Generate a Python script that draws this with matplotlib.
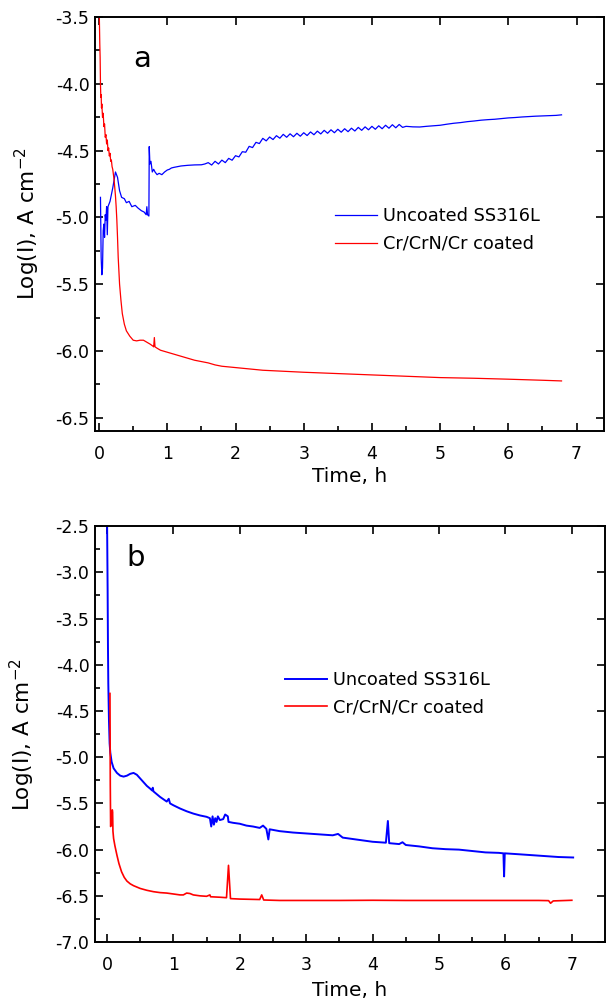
import matplotlib as mpl

mpl.use('Agg')
import matplotlib.pyplot as plt

plt.rcParams['font.family'] = ['DejaVu Sans']
plt.rcParams['mathtext.default'] = 'regular'
plt.rcParams['axes.unicode_minus'] = False

# ---- panel a ----
a_blue_t = [0.02, 0.03, 0.04, 0.05, 0.06, 0.07, 0.08, 0.09, 0.10, 0.11, 0.12, 0.13, 0.16, 0.20, 0.24,
            0.27, 0.30, 0.33, 0.37, 0.40, 0.44, 0.48, 0.53, 0.57, 0.62, 0.66, 0.69, 0.70, 0.71, 0.73,
            0.735, 0.745, 0.76, 0.78, 0.80, 0.82, 0.85, 0.88, 0.92, 0.96, 1.00, 1.03, 1.06, 1.10, 1.20,
            1.30, 1.40, 1.50, 1.55,
            1.60, 1.65, 1.70, 1.75, 1.80, 1.85, 1.90, 1.95, 2.00, 2.05, 2.10, 2.15, 2.20, 2.25, 2.30,
            2.35, 2.40, 2.45, 2.50, 2.55, 2.60, 2.65, 2.70, 2.75, 2.80, 2.85, 2.90, 2.95, 3.00, 3.05,
            3.10, 3.15, 3.20, 3.25, 3.30, 3.35, 3.40, 3.45, 3.50, 3.55, 3.60, 3.65, 3.70, 3.75, 3.80,
            3.85, 3.90, 3.95, 4.00, 4.05, 4.10, 4.15, 4.20, 4.25, 4.30, 4.35, 4.40, 4.45, 4.50,
            4.6, 4.7, 4.8, 4.9, 5.0, 5.1, 5.2, 5.3, 5.4, 5.5, 5.6, 5.7, 5.8, 5.9, 6.0, 6.1, 6.2, 6.3,
            6.4, 6.5, 6.6, 6.7, 6.78]
a_blue_v = [-4.85, -5.30, -5.43, -5.38, -5.10, -5.05, -5.15, -4.98, -5.02, -4.92, -5.13, -4.92, -4.88,
            -4.78, -4.66, -4.70, -4.80, -4.85, -4.86, -4.89, -4.88, -4.92, -4.91, -4.93, -4.95, -4.96,
            -4.98, -4.92, -4.98, -4.99, -4.47, -4.60, -4.58, -4.66, -4.64, -4.66, -4.68, -4.67, -4.68,
            -4.66, -4.645, -4.64, -4.63, -4.625, -4.615, -4.61, -4.607, -4.606, -4.60,
            -4.590, -4.608, -4.580, -4.600, -4.571, -4.590, -4.558, -4.572, -4.538, -4.547, -4.508,
            -4.512, -4.468, -4.477, -4.438, -4.447, -4.408, -4.427, -4.398, -4.417, -4.388, -4.407,
            -4.378, -4.400, -4.374, -4.396, -4.370, -4.392, -4.366, -4.387, -4.360, -4.381, -4.354,
            -4.375, -4.348, -4.370, -4.344, -4.366, -4.340, -4.362, -4.336, -4.358, -4.332, -4.353,
            -4.326, -4.348, -4.322, -4.344, -4.318, -4.340, -4.314, -4.336, -4.310, -4.332, -4.306,
            -4.329, -4.304, -4.326, -4.318,
            -4.322, -4.323, -4.318, -4.314, -4.31, -4.302, -4.295, -4.29, -4.283, -4.278, -4.272,
            -4.268, -4.265, -4.26, -4.255, -4.252, -4.248, -4.245, -4.242, -4.24, -4.238, -4.236, -4.232]

a_red_t = [0.00, 0.005, 0.01, 0.015, 0.02, 0.025, 0.03, 0.035, 0.04, 0.05, 0.06, 0.07, 0.08, 0.09, 0.10,
           0.11, 0.12, 0.13, 0.14, 0.15, 0.16, 0.17, 0.18, 0.19, 0.20, 0.21, 0.22, 0.23, 0.24, 0.25,
           0.26, 0.27, 0.28, 0.29, 0.30, 0.32, 0.34, 0.37, 0.40, 0.45, 0.50, 0.55, 0.60, 0.65, 0.70,
           0.75, 0.79, 0.80, 0.81, 0.82, 0.85, 0.90, 1.0, 1.1, 1.2, 1.3, 1.4, 1.5, 1.6, 1.7, 1.8, 1.9,
           2.0, 2.2, 2.4, 2.6, 2.8, 3.0, 3.5, 4.0, 4.5, 5.0, 5.5, 6.0, 6.5, 6.78]
a_red_v = [-3.40, -3.55, -3.70, -3.80, -4.00, -4.10, -4.08, -4.18, -4.15, -4.25, -4.22, -4.32, -4.30,
           -4.40, -4.38, -4.45, -4.42, -4.50, -4.48, -4.54, -4.52, -4.58, -4.57, -4.62, -4.64, -4.68,
           -4.72, -4.78, -4.84, -4.92, -5.02, -5.15, -5.30, -5.40, -5.50, -5.62, -5.72, -5.80, -5.85,
           -5.89, -5.92, -5.925, -5.92, -5.92, -5.935, -5.95, -5.965, -5.97, -5.90, -5.97, -5.98,
           -5.995, -6.01, -6.025, -6.04, -6.055, -6.07, -6.08, -6.09, -6.105, -6.115, -6.12, -6.125,
           -6.135, -6.145, -6.15, -6.155, -6.16, -6.17, -6.18, -6.19, -6.2, -6.205, -6.212, -6.22,
           -6.225]

# ---- panel b ----
b_blue_t = [0.00, 0.01, 0.015, 0.02, 0.03, 0.04, 0.05, 0.07, 0.10, 0.15, 0.20, 0.25, 0.30, 0.35, 0.40,
            0.45, 0.50, 0.55, 0.60, 0.65, 0.68, 0.69, 0.70, 0.80, 0.90, 0.93, 0.95, 1.00, 1.1, 1.2, 1.3,
            1.4, 1.5, 1.55, 1.57, 1.59, 1.61, 1.63, 1.65, 1.67, 1.70, 1.75, 1.78, 1.82, 1.83, 1.9, 2.0,
            2.1, 2.2, 2.3, 2.35, 2.4, 2.43, 2.45, 2.6, 2.8, 3.0, 3.2, 3.4, 3.48, 3.55, 3.7, 3.85, 4.0,
            4.2, 4.23, 4.25, 4.4, 4.45, 4.5, 4.7, 4.9, 5.1, 5.3, 5.5, 5.7, 5.9, 5.97, 5.98, 5.99, 6.2,
            6.4, 6.6, 6.8, 7.02]
b_blue_v = [-2.3, -3.2, -3.8, -4.2, -4.6, -4.85, -4.95, -5.05, -5.12, -5.17, -5.20, -5.21, -5.20,
            -5.18, -5.17, -5.19, -5.23, -5.27, -5.31, -5.34, -5.36, -5.33, -5.37, -5.43, -5.48, -5.45,
            -5.50, -5.52, -5.555, -5.585, -5.61, -5.63, -5.645, -5.66, -5.75, -5.64, -5.73, -5.66,
            -5.70, -5.64, -5.68, -5.67, -5.62, -5.64, -5.70, -5.71, -5.72, -5.74, -5.75, -5.765,
            -5.74, -5.775, -5.89, -5.78, -5.80, -5.815, -5.825, -5.835, -5.845, -5.83, -5.87, -5.885,
            -5.90, -5.915, -5.925, -5.69, -5.93, -5.94, -5.92, -5.95, -5.965, -5.985, -5.995, -6.0,
            -6.015, -6.03, -6.035, -6.04, -6.29, -6.04, -6.05, -6.06, -6.07, -6.08, -6.085]

b_red_t = [0.045, 0.05, 0.055, 0.065, 0.075, 0.08, 0.085, 0.09, 0.10, 0.12, 0.15, 0.18, 0.22, 0.26,
           0.30, 0.35, 0.40, 0.50, 0.60, 0.70, 0.80, 0.90, 1.00, 1.10, 1.15, 1.20, 1.25, 1.30, 1.40,
           1.50, 1.55, 1.56, 1.70, 1.80, 1.83, 1.86, 2.00, 2.30, 2.33, 2.36, 2.6, 3.0, 3.5, 4.0, 4.5,
           5.0, 5.5, 6.0, 6.5, 6.65, 6.68, 6.72, 7.0]
b_red_v = [-4.31, -5.3, -5.75, -5.72, -5.70, -5.57, -5.60, -5.80, -5.88, -5.96, -6.06, -6.15, -6.24,
           -6.30, -6.34, -6.37, -6.39, -6.42, -6.44, -6.455, -6.465, -6.47, -6.48, -6.49, -6.49,
           -6.47, -6.475, -6.49, -6.50, -6.505, -6.49, -6.51, -6.515, -6.52, -6.17, -6.53, -6.535,
           -6.54, -6.49, -6.545, -6.55, -6.55, -6.55, -6.548, -6.55, -6.55, -6.55, -6.55, -6.55,
           -6.552, -6.58, -6.555, -6.548]

labels = ['Uncoated SS316L', 'Cr/CrN/Cr coated']


def style_axes(ax, xlim, ylim, yticks):
    ax.set_xlim(*xlim)
    ax.set_ylim(*ylim)
    ax.set_xticks(range(0, 8))
    ax.set_xticks([i + 0.5 for i in range(0, 8) if i + 0.5 < xlim[1]], minor=True)
    ax.set_yticks(yticks)
    ax.set_yticklabels(['%.1f' % y for y in yticks])
    ax.set_yticks([y + 0.25 for y in yticks[:-1]], minor=True)
    ax.tick_params(which='both', direction='in', top=True, right=True, labelsize=12.5, width=1.2)
    ax.tick_params(which='major', length=6)
    ax.tick_params(which='minor', length=3.5, top=False, right=False)
    ax.tick_params(axis='x', pad=10)
    ax.tick_params(axis='y', pad=4)
    for s in ax.spines.values():
        s.set_linewidth(1.4)


fig = plt.figure(figsize=(6.13, 10.07), dpi=100)

ax1 = fig.add_axes([0.155, 0.572, 0.830, 0.411])
ax1.plot(a_blue_t, a_blue_v, color='blue', lw=0.9, label=labels[0])
ax1.plot(a_red_t, a_red_v, color='red', lw=0.9, label=labels[1])
style_axes(ax1, (-0.06, 7.4), (-6.6, -3.5), [-6.5, -6.0, -5.5, -5.0, -4.5, -4.0, -3.5])
ax1.set_xlabel('Time, h', fontsize=14.5)
ax1.set_ylabel('Log(I), A cm$^{-2}$', fontsize=15.5)
ax1.xaxis.set_label_coords(0.5, -0.088)
ax1.yaxis.set_label_coords(-0.104, 0.5)
ax1.text(0.092, 0.899, 'a', transform=ax1.transAxes, fontsize=21, ha='center', va='center')
ax1.legend(loc='upper left', bbox_to_anchor=(0.4715, 0.541), frameon=False, fontsize=12.8,
           handlelength=2.35, handletextpad=0.35, labelspacing=0.55, borderpad=0, borderaxespad=0)

ax2 = fig.add_axes([0.155, 0.0645, 0.832, 0.413])
ax2.plot(b_blue_t, b_blue_v, color='blue', lw=1.4, label=labels[0])
ax2.plot(b_red_t, b_red_v, color='red', lw=1.2, label=labels[1])
style_axes(ax2, (-0.18, 7.5), (-7.0, -2.5), [-7.0, -6.5, -6.0, -5.5, -5.0, -4.5, -4.0, -3.5, -3.0, -2.5])
ax2.set_xlabel('Time, h', fontsize=14.5)
ax2.set_ylabel('Log(I), A cm$^{-2}$', fontsize=15.5)
ax2.xaxis.set_label_coords(0.5, -0.093)
ax2.yaxis.set_label_coords(-0.113, 0.5)
ax2.text(0.08, 0.923, 'b', transform=ax2.transAxes, fontsize=21, ha='center', va='center')
ax2.legend(loc='upper left', bbox_to_anchor=(0.3725, 0.652), frameon=False, fontsize=12.8,
           handlelength=2.35, handletextpad=0.35, labelspacing=0.55, borderpad=0, borderaxespad=0)

fig.savefig('out.png', dpi=100)
